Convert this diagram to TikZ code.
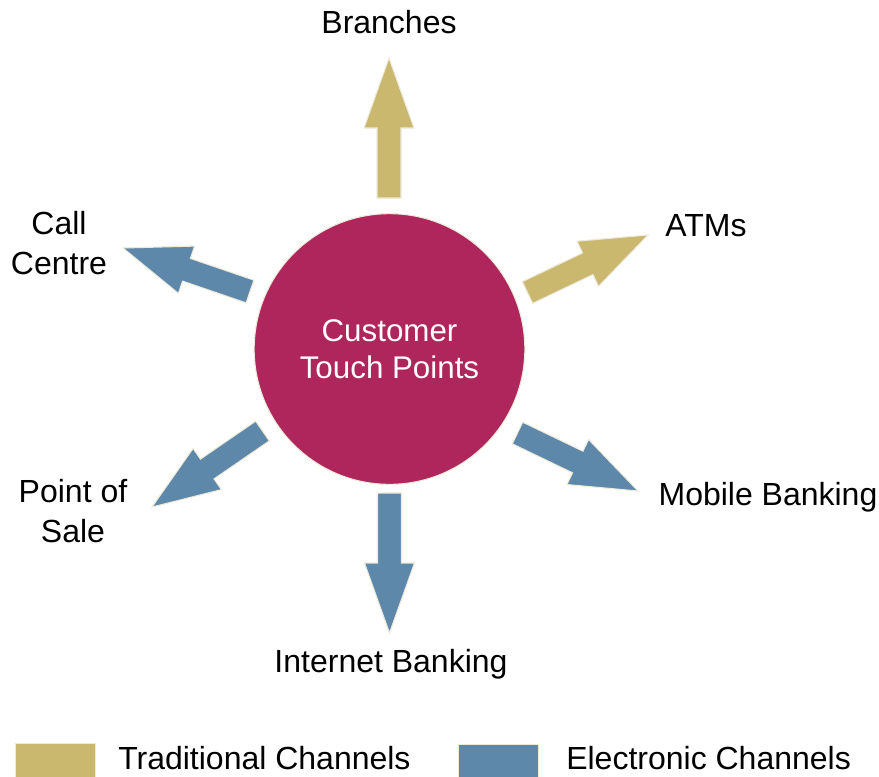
\documentclass[tikz,border=0pt]{standalone}
\usepackage{fontspec}
\setmainfont{Liberation Sans}
\usetikzlibrary{calc}

\definecolor{gold}{HTML}{C9B86E}
\definecolor{steel}{HTML}{5E88AA}
\definecolor{berry}{HTML}{AE265C}
\definecolor{rim}{HTML}{EEEADB}

\tikzset{
	chan/.style={draw=rim, line width=0.8pt, line join=miter},
	lbl/.style={inner sep=0pt, align=center, font=\fontsize{24}{30}\selectfont},
	swatch/.style={draw=rim, line width=0.6pt, minimum width=60pt, minimum height=30pt, inner sep=0pt},
}

% block arrow from (#1-s) to (#1-e)
\newcommand{\chanarrow}[2]{%
	\coordinate (#1-m) at ($(#1-s)!.5!(#1-e)$);
	\draw[chan, fill=#2] ($(#1-s)!9pt!90:(#1-e)$) -- ($(#1-m)!9pt!90:(#1-e)$)
		-- ($(#1-m)!18.75pt!90:(#1-e)$) -- (#1-e) -- ($(#1-m)!18.75pt!-90:(#1-e)$)
		-- ($(#1-m)!9pt!-90:(#1-e)$) -- ($(#1-s)!9pt!-90:(#1-e)$) -- cycle;
}

\begin{document}
\begin{tikzpicture}[x=0.75pt, y=-0.75pt, line join=round]
	\useasboundingbox (0,0) rectangle (879,776);
	\node[circle, fill=berry, draw=rim, line width=0.8pt, minimum size=203pt, inner sep=0pt, text=white, align=center, font=\fontsize{23.5}{28}\selectfont] (hub) at (389.5,349) {Customer\\Touch Points};
	% arrow ends
	\coordinate (branches-s) at (389,198);   \coordinate (branches-e) at (389,58);
	\coordinate (atms-s) at (527.5,292.5);   \coordinate (atms-e) at (648,235);
	\coordinate (mobile-s) at (517.5,433);   \coordinate (mobile-e) at (638,491);
	\coordinate (internet-s) at (389.5,493); \coordinate (internet-e) at (389.5,633);
	\coordinate (pos-s) at (262.5,431);      \coordinate (pos-e) at (152,507);
	\coordinate (call-s) at (250,291.5);     \coordinate (call-e) at (123,248);
	\chanarrow{branches}{gold}
	\chanarrow{atms}{gold}
	\chanarrow{mobile}{steel}
	\chanarrow{internet}{steel}
	\chanarrow{pos}{steel}
	\chanarrow{call}{steel}
	% labels
	\node[lbl, anchor=base] (branches) at (389,33) {Branches};
	\node[lbl, anchor=base] (atms) at (706,236.5) {ATMs};
	\node[lbl, anchor=base] (mobile) at (768,505.5) {Mobile Banking};
	\node[lbl, anchor=base] (internet) at (391,672) {Internet Banking};
	\node[lbl] (pos) at (73,511.5) {Point of\\Sale};
	\node[lbl] (call) at (59,243.5) {Call\\Centre};
	% legend
	\node[swatch, fill=gold, anchor=north west] (tradkey) at (15,743) {};
	\node[lbl, anchor=base west] (tradtext) at (118,769) {Traditional Channels};
	\node[swatch, fill=steel, anchor=north west] (elkey) at (458,744) {};
	\node[lbl, anchor=base west] (eltext) at (566,769) {Electronic Channels};
\end{tikzpicture}
\end{document}
